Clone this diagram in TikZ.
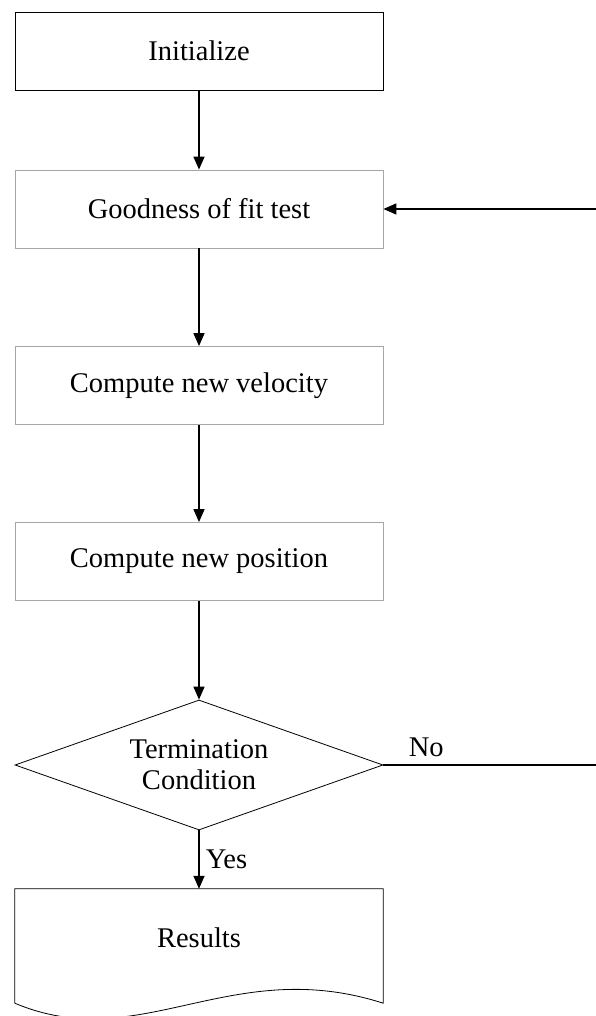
\documentclass[tikz,border=0pt]{standalone}
\usepackage{fontspec}
\setmainfont{Liberation Serif}
\usepackage{tikz}
\usetikzlibrary{shapes.geometric, arrows.meta, calc}

\begin{document}
\begin{tikzpicture}[x=1pt, y=1pt,
    font=\fontsize{28.5}{31}\selectfont,
    stepbox/.style={draw=gray!70, line width=0.8pt, minimum width=368pt, minimum height=78pt, inner sep=0pt},
    arr/.style={-{Triangle[length=13pt,width=11pt]}, line width=1.5pt}]
    \useasboundingbox (0,0) rectangle (595,1016);
    \node[stepbox, draw=black] (init) at (199,965) {Initialize};
    \node[stepbox] (fit) at (199,807) {Goodness of fit test};
    \node[stepbox] (vel) at (199,630.5) {Compute new velocity};
    \node[stepbox] (pos) at (199,454.5) {Compute new position};
    \node[draw, diamond, line width=0.8pt, minimum width=368pt, minimum height=130pt, aspect=2.83, inner sep=0pt, align=center] (cond) at (199,251) {Termination\\Condition};
    \node[minimum width=368pt, minimum height=98pt, inner sep=0pt] (res) at (199,78) {Results};
    % document shape
    \draw[line width=0.8pt] ($(res.south west)+(0,-16)$) -- (res.north west) -- (res.north east) -- ($(res.south east)+(0,-16)$)
        .. controls (230,62) and (140,-40) .. ($(res.south west)+(0,-16)$);
    \draw[arr] (init) -- (fit);
    \draw[arr] (fit) -- (vel);
    \draw[arr] (vel) -- (pos);
    \draw[arr] (pos) -- (cond);
    \draw[arr] (cond) -- node[right, inner sep=6pt] {Yes} (res.north);
    \draw[arr] (cond.east) -- node[above, pos=0.2, inner sep=7pt] {No} ++(214,0) |- (fit.east);
\end{tikzpicture}
\end{document}
